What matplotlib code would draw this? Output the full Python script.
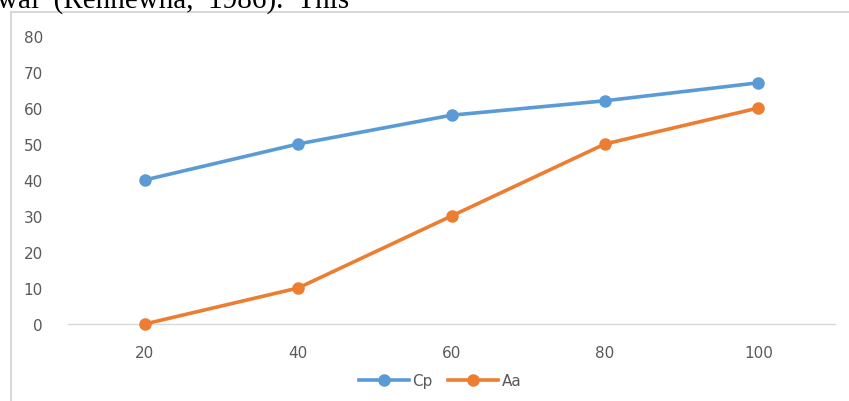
import matplotlib
matplotlib.use("Agg")
import matplotlib.pyplot as plt
from matplotlib.patches import Rectangle
from matplotlib.lines import Line2D

categories = ["20", "40", "60", "80", "100"]
cp = [40, 50, 58, 62, 67]
aa = [0, 10, 30, 50, 60]
yticks = [0, 10, 20, 30, 40, 50, 60, 70, 80]

W, H = 849, 402
fig = plt.figure(figsize=(W / 100, H / 100), dpi=100)
fig.patch.set_facecolor("white")

# clipped document text above the chart
fig.text(-3 / W, 1 - 8 / H, "wal  (Rennewha,  1986).  This", fontsize=21,
         family="Liberation Serif", color="black", ha="left", va="baseline")

# chart frame
fig.add_artist(Rectangle((10.5 / W, -0.1), 1.0, 1 - 13 / H + 0.1,
                         transform=fig.transFigure, fill=False,
                         edgecolor="#d9d9d9", linewidth=1.5))

ax = fig.add_axes([68 / W, 1 - 325 / H, (835 - 68) / W, (325 - 37) / H])
x = list(range(len(categories)))
blue = "#5B9BD5"
orange = "#ED7D31"
ax.plot(x, cp, color=blue, linewidth=2.6, marker="o", markersize=8,
        clip_on=False, zorder=3)
ax.plot(x, aa, color=orange, linewidth=2.6, marker="o", markersize=8,
        clip_on=False, zorder=3)

ax.set_xlim(-0.5, len(categories) - 0.5)
ax.set_ylim(0, 80)
ax.set_yticks(yticks)
ax.set_xticks(x)
ax.set_xticklabels(categories)
for s in ["top", "right", "left"]:
    ax.spines[s].set_visible(False)
ax.spines["bottom"].set_color("#d9d9d9")
ax.spines["bottom"].set_linewidth(1.0)
ax.tick_params(axis="both", length=0, labelsize=11, labelcolor="#595959")
ax.tick_params(axis="y", pad=18)
ax.tick_params(axis="x", pad=15)
for lab in ax.get_xticklabels() + ax.get_yticklabels():
    lab.set_family("DejaVu Sans")

handles = [Line2D([], [], color=blue, linewidth=2.6, marker="o", markersize=8),
           Line2D([], [], color=orange, linewidth=2.6, marker="o", markersize=8)]
leg = fig.legend(handles, ["Cp", "Aa"], loc="center", bbox_to_anchor=(440 / W, 1 - 382 / H),
                 ncol=2, frameon=False, handlelength=3.3, columnspacing=1.0,
                 handletextpad=0.2, prop={"family": "DejaVu Sans", "size": 11})
for t in leg.get_texts():
    t.set_color("#595959")

fig.savefig("out.png", dpi=100, facecolor="white")
